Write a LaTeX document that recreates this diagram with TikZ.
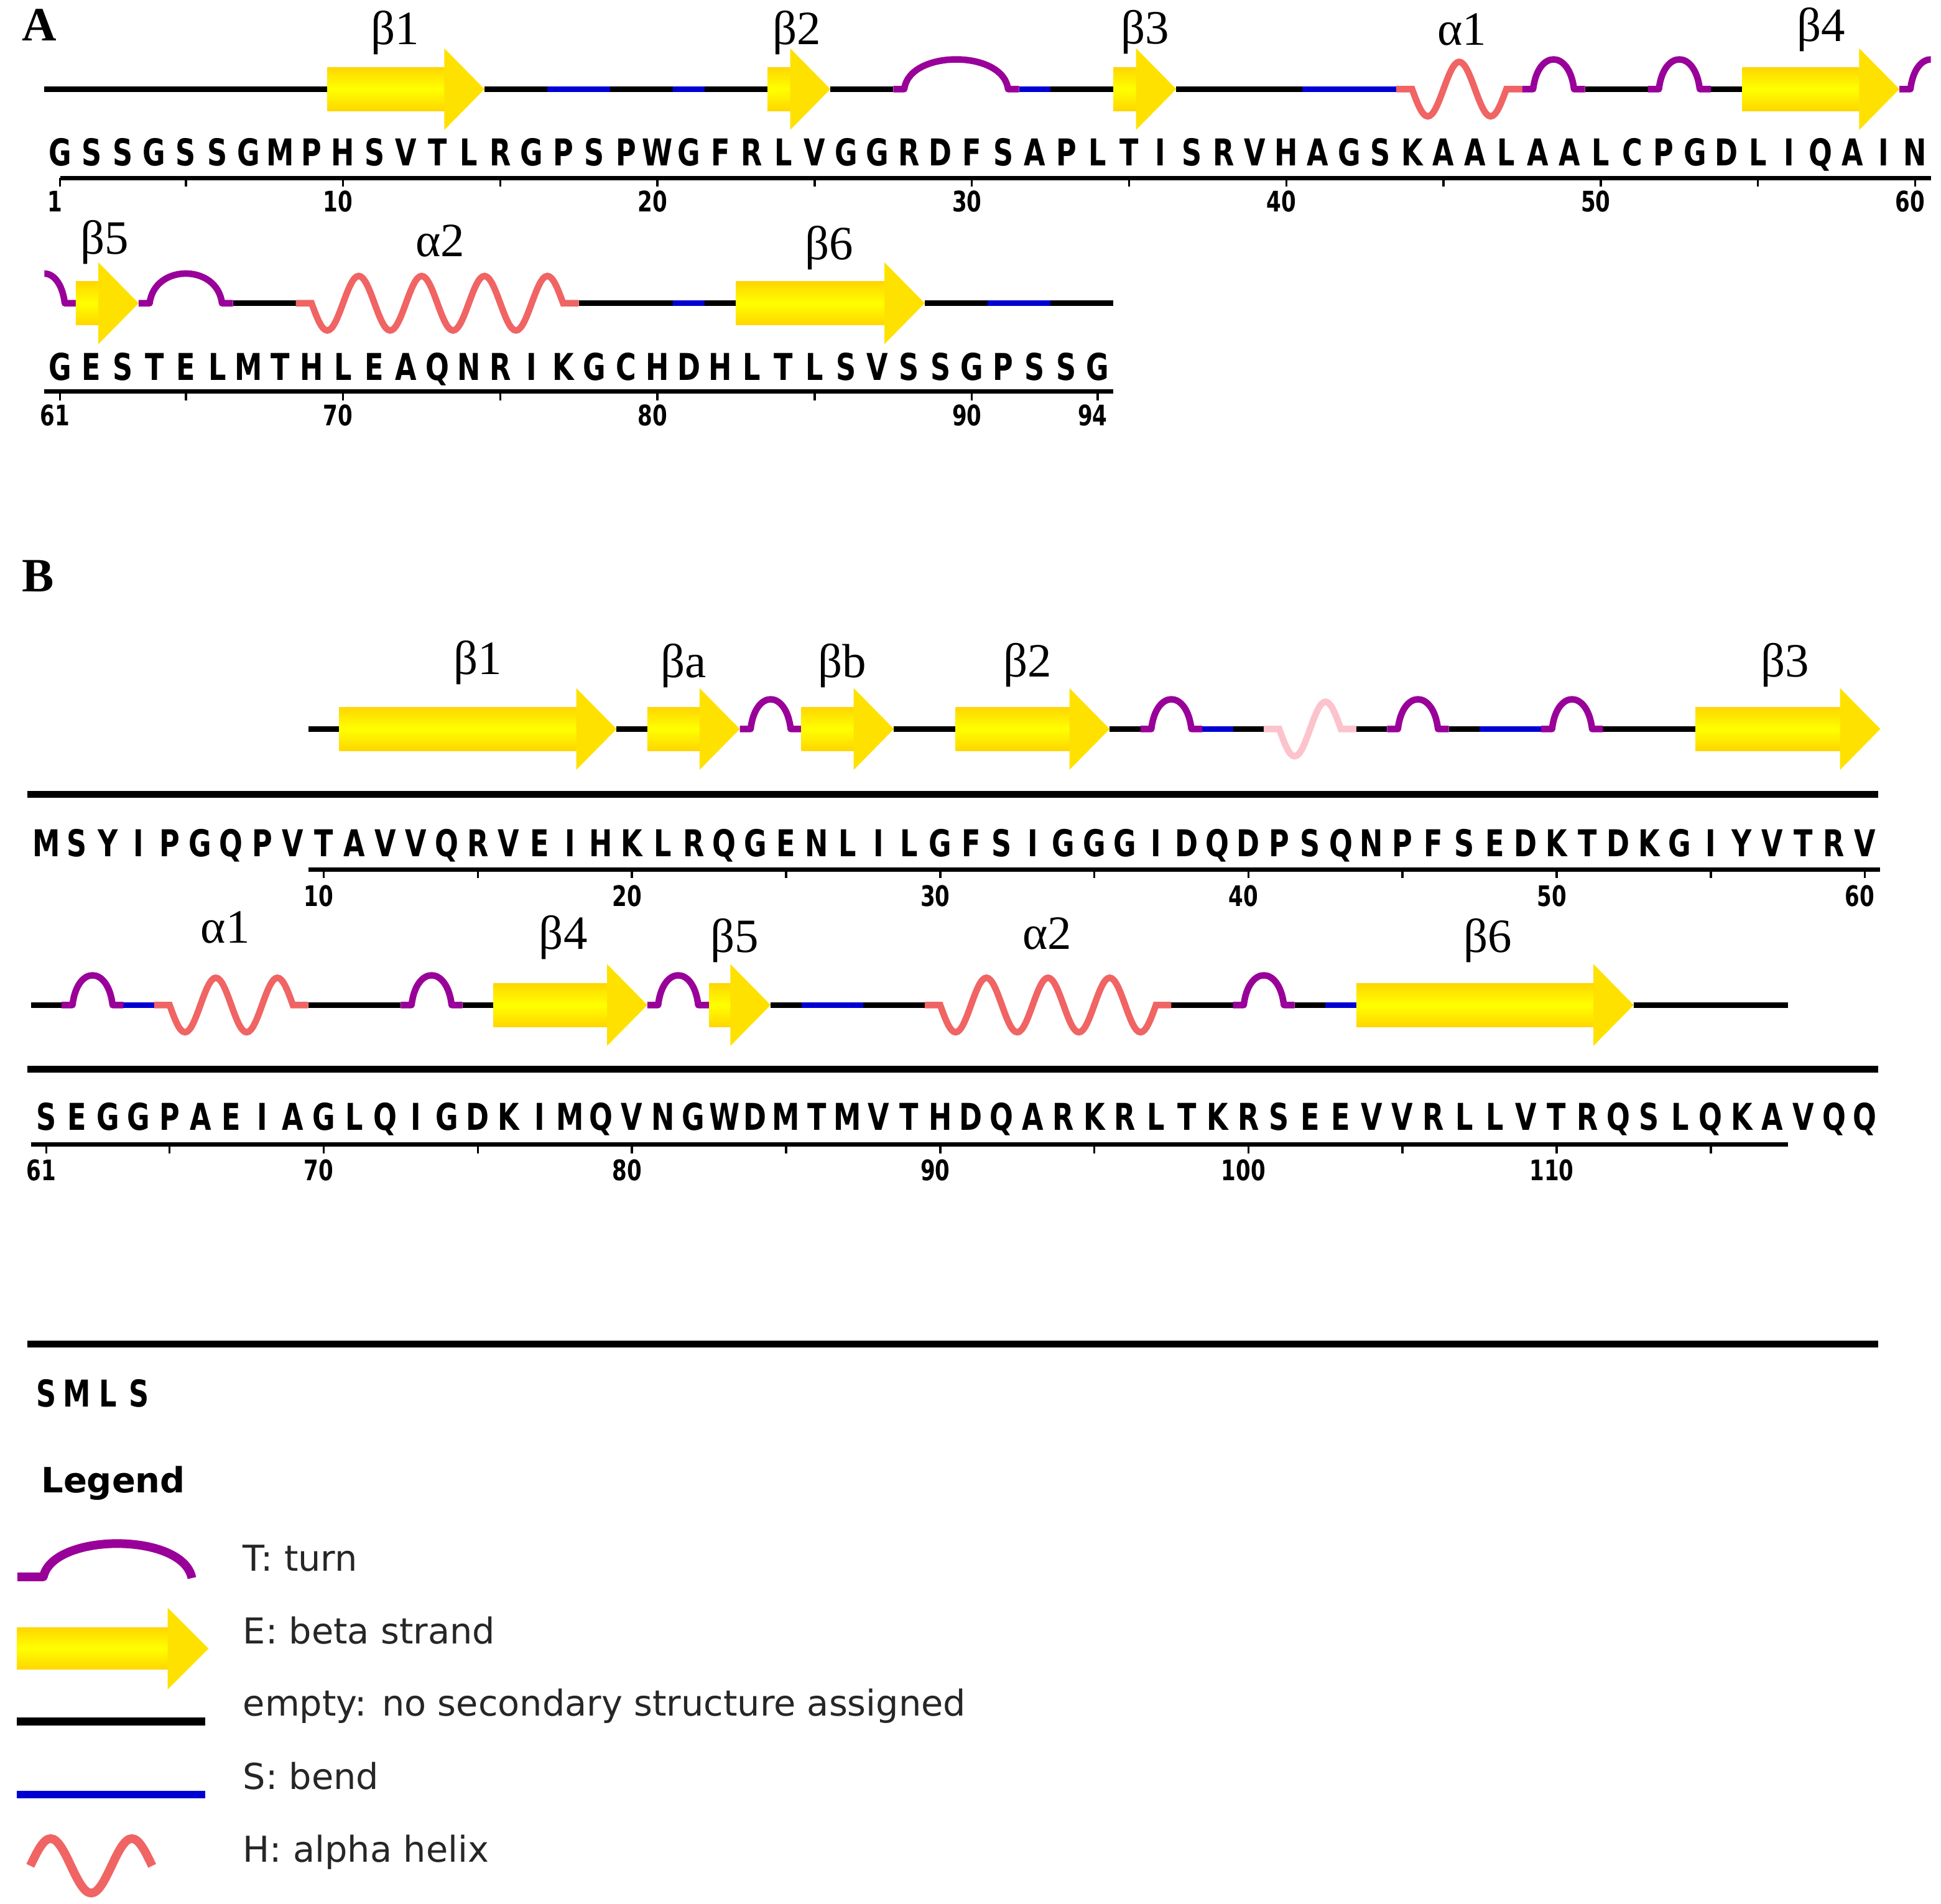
\documentclass[tikz,border=0pt]{standalone}
\usepackage{fontspec}
\setmainfont{Liberation Serif}
\newfontfamily\seqfont[FakeStretch=0.75]{DejaVu Sans}
\newfontfamily\legfont{DejaVu Sans}

\definecolor{strandmid}{RGB}{255,255,0}
\definecolor{strandedge}{RGB}{255,214,0}
\definecolor{strandtipc}{RGB}{255,225,0}
\definecolor{turnpurple}{RGB}{153,0,153}
\definecolor{bendblue}{RGB}{0,0,210}
\definecolor{helixred}{RGB}{240,100,100}
\definecolor{helixpale}{RGB}{252,195,205}

\tikzset{
  coil/.style={line width=2.6pt,black},
  bendline/.style={line width=2.6pt,bendblue},
  turnline/.style={line width=3pt,turnpurple,line join=round},
  helixline/.style={line width=3pt,helixred},
  paleline/.style={line width=3pt,helixpale},
  strandbody/.style={top color=strandedge,bottom color=strandedge,middle color=strandmid},
  strandtip/.style={fill=strandtipc},
  resid/.style={font=\seqfont\bfseries\fontsize{17}{17}\selectfont,anchor=base,inner sep=0pt},
  ticklbl/.style={font=\seqfont\bfseries\fontsize{13}{13}\selectfont,anchor=base,inner sep=0pt},
  sslbl/.style={font=\fontsize{22}{22}\selectfont,anchor=base,inner sep=0pt},
  panel/.style={font=\bfseries\fontsize{22}{22}\selectfont,anchor=base,inner sep=0pt},
  rulerline/.style={line width=2pt},
  tickmark/.style={line width=1pt},
  sepline/.style={line width=3.2pt},
  legtitle/.style={font=\legfont\bfseries\fontsize{16}{16}\selectfont,anchor=base west,inner sep=0pt},
  legtext/.style={font=\legfont\fontsize{16.4}{16.4}\selectfont,anchor=base west,inner sep=0pt,black!85},
}

% row geometry: x of residue 0, residue spacing, y of the backbone
\newcommand\rowset[3]{\def\xo{#1}\def\dr{#2}\def\yl{#3}}
\newcommand\coilseg[3][coil]{\draw[#1] ({\xo+(#2)*\dr},\yl) -- ({\xo+(#3)*\dr},\yl);}
\newcommand\strand[2]{%
  \pgfmathsetmacro\stA{\xo+(#1)*\dr}%
  \pgfmathsetmacro\stB{\xo+(#2)*\dr}%
  \pgfmathsetmacro\stH{\stB-32.5}%
  \shade[strandbody] (\stA,{\yl-17.5}) rectangle (\stH,{\yl+17.5});%
  \fill[strandtip] (\stH,{\yl-33}) -- (\stB,\yl) -- (\stH,{\yl+33}) -- cycle;}
\newcommand\turn[2]{%
  \pgfmathsetmacro\tuA{\xo+(#1)*\dr}%
  \pgfmathsetmacro\tuB{\xo+(#2)*\dr}%
  \pgfmathsetmacro\tuC{\tuA+0.35*\dr}%
  \pgfmathsetmacro\tuD{\tuB-0.35*\dr}%
  \draw[turnline] (\tuA,\yl) -- (\tuC,\yl) .. controls ({\tuC+0.15*\dr},{\yl-32}) and ({\tuD-0.15*\dr},{\yl-32}) .. (\tuD,\yl) -- (\tuB,\yl);}
\newcommand\helix[3][helixline]{%
  \pgfmathsetmacro\hxA{\xo+(#2)*\dr}%
  \pgfmathtruncatemacro\hxM{round(#3-#2)-1}%
  \draw[#1] (\hxA,\yl) -- ({\hxA+0.5*\dr},\yl) sin ({\hxA+\dr},{\yl+22})
    \foreach \k in {2,...,\hxM} { cos ({\hxA+(\k-0.5)*\dr},\yl) sin ({\hxA+\k*\dr},{\yl-22*cos(180*\k)}) }
    cos ({\hxA+(\hxM+0.5)*\dr},\yl) -- ({\hxA+(\hxM+1)*\dr},\yl);}
\newcommand\rulerrow[4]{%
  \draw[rulerline] ({\xo+(#1)*\dr},#3) -- ({\xo+(#2)*\dr},#3);
  \foreach \t in {#4} {\draw[tickmark] ({\xo+\t*\dr},#3) -- ++(0,7);}}
\newcommand\seqrow[4]{\foreach \c [count=\i from #2] in {#4} {\node[resid] (#1\i) at ({\xo+\i*\dr},#3) {\c};}}
\newcommand\ticklabels[3]{\foreach \t in {#3} {\node[ticklbl] (#1\t) at ({\xo+\t*\dr-4},#2) {\t};}}

\begin{document}
\begin{tikzpicture}[x=0.02cm,y=-0.02cm]
\fill[white] (0,0) rectangle (1568,1538);

%% panel A
\node[panel] (labA) at (32,32.7) {A};

% first row, residues 1-60
\rowset{23.1}{25.4}{72}
\coilseg{0.5}{9.5}
\coilseg{14.5}{16.5}
\coilseg[bendline]{16.5}{18.5}
\coilseg{18.5}{20.5}
\coilseg[bendline]{20.5}{21.5}
\coilseg{21.5}{23.5}
\coilseg{25.5}{27.5}
\coilseg[bendline]{31.5}{32.5}
\coilseg{32.5}{34.5}
\coilseg{36.5}{40.5}
\coilseg[bendline]{40.5}{43.5}
\coilseg{49.5}{51.5}
\coilseg{53.5}{54.5}
\turn{27.5}{31.5}
\turn{47.5}{49.5}
\turn{51.5}{53.5}
\begin{scope}
  \clip (0,0) rectangle ({\xo+60.5*\dr},160);
  \turn{59.5}{61.5}
\end{scope}
\helix{43.5}{47.5}
\strand{9.5}{14.5}
\strand{23.5}{25.5}
\strand{34.5}{36.5}
\strand{54.5}{59.5}

\node[sslbl] (a1b1) at (319,36) {β1};
\node[sslbl] (a1b2) at (643.5,36) {β2};
\node[sslbl] (a1b3) at (925,35.5) {β3};
\node[sslbl] (a1a1) at (1181,36.5) {α1};
\node[sslbl] (a1b4) at (1471,33.5) {β4};

\seqrow{sA}{1}{134}{G,S,S,G,S,S,G,M,P,H,S,V,T,L,R,G,P,S,P,W,G,F,R,L,V,G,G,R,D,F,S,A,P,L,T,I,S,R,V,H,A,G,S,K,A,A,L,A,A,L,C,P,G,D,L,I,Q,A,I,N}
\rulerrow{1}{60.5}{143.7}{1,5,10,15,20,25,30,35,40,45,50,55,60}
\ticklabels{tA}{171}{1,10,20,30,40,50,60}

% second row, residues 61-94
\rowset{-1500.9}{25.4}{245}
\begin{scope}
  \clip ({\xo+60.5*\dr},180) rectangle (400,300);
  \turn{59.5}{61.5}
\end{scope}
\turn{63.5}{66.5}
\coilseg{66.5}{68.5}
\coilseg{77.5}{80.5}
\coilseg[bendline]{80.5}{81.5}
\coilseg{81.5}{82.5}
\coilseg{88.5}{90.5}
\coilseg[bendline]{90.5}{92.5}
\coilseg{92.5}{94.5}
\helix{68.5}{77.5}
\strand{61.5}{63.5}
\strand{82.5}{88.5}

\node[sslbl] (a2b5) at (84.5,205) {β5};
\node[sslbl] (a2a2) at (355.5,207) {α2};
\node[sslbl] (a2b6) at (670,210) {β6};

\seqrow{sA}{61}{307}{G,E,S,T,E,L,M,T,H,L,E,A,Q,N,R,I,K,G,C,H,D,H,L,T,L,S,V,S,S,G,P,S,S,G}
\rulerrow{60.5}{94.5}{316.5}{61,65,70,75,80,85,90,94}
\ticklabels{tA}{344}{61,70,80,90,94}

%% panel B
\node[panel] (labB) at (30.5,478) {B};

% first row, residues 1-60
\rowset{12.5}{24.9}{589}
\coilseg{9.5}{10.5}
\coilseg{19.5}{20.5}
\coilseg{28.5}{30.5}
\coilseg{35.5}{36.5}
\coilseg[bendline]{38.5}{39.5}
\coilseg{39.5}{40.5}
\coilseg{43.5}{44.5}
\coilseg{46.5}{47.5}
\coilseg[bendline]{47.5}{49.5}
\coilseg{51.5}{54.5}
\turn{23.5}{25.5}
\turn{36.5}{38.5}
\turn{44.5}{46.5}
\turn{49.5}{51.5}
\helix[paleline]{40.5}{43.5}
\strand{10.5}{19.5}
\strand{20.5}{23.5}
\strand{25.5}{28.5}
\strand{30.5}{35.5}
\strand{54.5}{60.5}

\node[sslbl] (b1b1) at (386,545) {β1};
\node[sslbl] (b1ba) at (552,547.5) {βa};
\node[sslbl] (b1bb) at (680.5,547.5) {βb};
\node[sslbl] (b1b2) at (830,547) {β2};
\node[sslbl] (b1b3) at (1442,547) {β3};

\draw[sepline] (22,642) -- (1517,642);
\seqrow{sB}{1}{692}{M,S,Y,I,P,G,Q,P,V,T,A,V,V,Q,R,V,E,I,H,K,L,R,Q,G,E,N,L,I,L,G,F,S,I,G,G,G,I,D,Q,D,P,S,Q,N,P,F,S,E,D,K,T,D,K,G,I,Y,V,T,R,V}
\rulerrow{9.5}{60.5}{702.5}{10,15,20,25,30,35,40,45,50,55,60}
\ticklabels{tB}{732}{10,20,30,40,50,60}

% second row, residues 61-120
\rowset{-1481.5}{24.9}{812}
\coilseg{60.5}{61.5}
\coilseg[bendline]{63.5}{64.5}
\coilseg{69.5}{72.5}
\coilseg{74.5}{75.5}
\coilseg{84.5}{85.5}
\coilseg[bendline]{85.5}{87.5}
\coilseg{87.5}{89.5}
\coilseg{97.5}{99.5}
\coilseg{101.5}{102.5}
\coilseg[bendline]{102.5}{103.5}
\coilseg{112.5}{117.5}
\turn{61.5}{63.5}
\turn{72.5}{74.5}
\turn{80.5}{82.5}
\turn{99.5}{101.5}
\helix{64.5}{69.5}
\helix{89.5}{97.5}
\strand{75.5}{80.5}
\strand{82.5}{84.5}
\strand{103.5}{112.5}

\node[sslbl] (b2a1) at (182,762) {α1};
\node[sslbl] (b2b4) at (455,767) {β4};
\node[sslbl] (b2b5) at (593.5,769.5) {β5};
\node[sslbl] (b2a2) at (846,767) {α2};
\node[sslbl] (b2b6) at (1202,769.5) {β6};

\draw[sepline] (22,864) -- (1517,864);
\seqrow{sB}{61}{913}{S,E,G,G,P,A,E,I,A,G,L,Q,I,G,D,K,I,M,Q,V,N,G,W,D,M,T,M,V,T,H,D,Q,A,R,K,R,L,T,K,R,S,E,E,V,V,R,L,L,V,T,R,Q,S,L,Q,K,A,V,Q,Q}
\rulerrow{60.5}{117.5}{924.8}{61,65,70,75,80,85,90,95,100,105,110,115}
\ticklabels{tB}{954}{61,70,80,90,100,110}

% third row, residues 121-124
\rowset{-2975.5}{24.9}{1086}
\draw[sepline] (22,1086) -- (1517,1086);
\seqrow{sB}{121}{1136.5}{S,M,L,S}

%% legend
\node[legtitle] (legend) at (33,1206) {Legend};

\draw[turnline,line width=4pt] (14,1274) -- (35,1274) .. controls (43,1238) and (148,1238) .. (155,1275);
\node[legtext] (legT) at (196,1269.5) {T: turn};

\shade[strandbody] (13.6,1315) rectangle (135.5,1348.5);
\fill[strandtip] (135.5,1299) -- (168.5,1332) -- (135.5,1365) -- cycle;
\node[legtext] (legE) at (196,1328) {E: beta strand};

\draw[coil,line width=3.6pt] (13.6,1391) -- (166,1391);
\node[legtext] (legC) at (196,1386.5) {empty: no secondary structure assigned};

\draw[bendline,line width=3.6pt] (13.6,1450) -- (166,1450);
\node[legtext] (legS) at (196,1445.5) {S: bend};

\draw[helixline,line width=4pt] (24.5,1507.5) sin (40.9,1485.5) cos (57.3,1507.5) sin (73.7,1529.5) cos (90.1,1507.5) sin (106.5,1485.5) cos (122.9,1507.5);
\node[legtext] (legH) at (196,1504.5) {H: alpha helix};

\end{tikzpicture}
\end{document}
